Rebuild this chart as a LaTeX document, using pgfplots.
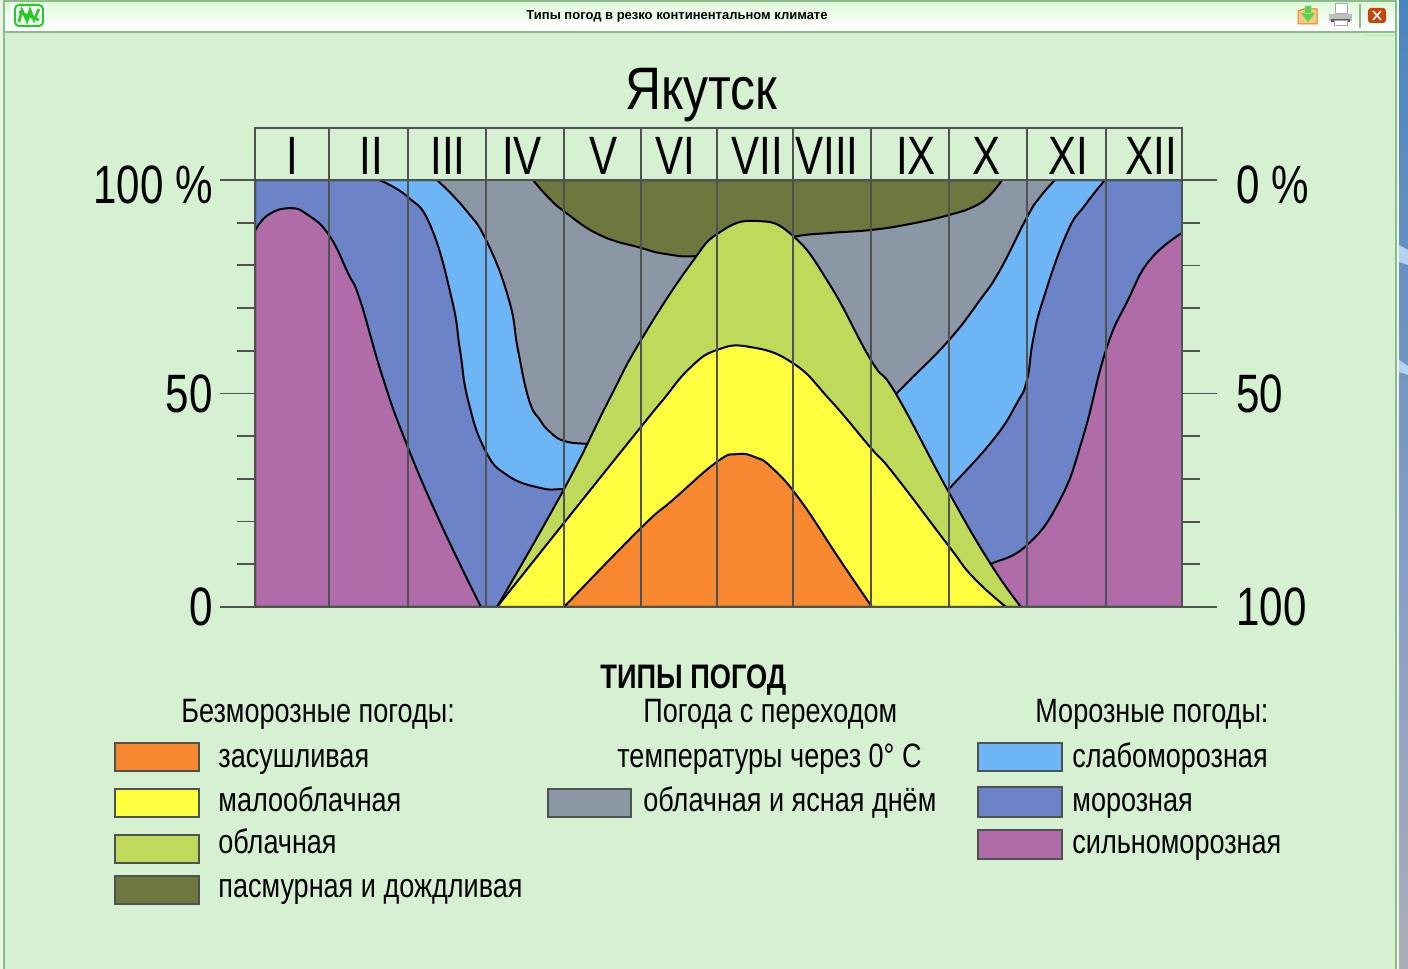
\documentclass[border=0pt]{standalone}
\usepackage{fontspec}
\setmainfont[FakeStretch=0.8]{Liberation Sans}
\newfontfamily\tickfont[FakeStretch=0.78]{Liberation Sans}
\newfontfamily\titlefont[FakeStretch=0.83]{Liberation Sans}
\newfontfamily\plainfont{Liberation Sans}
\usepackage{pgfplots}
\pgfplotsset{compat=1.18}
\definecolor{bgc}{HTML}{D6F1D1}
\definecolor{framec}{HTML}{8DBB8D}
\definecolor{axisc}{HTML}{4F5250}
\definecolor{orangec}{HTML}{F7882F}
\definecolor{yellowc}{HTML}{FFFF40}
\definecolor{greenc}{HTML}{BFD95B}
\definecolor{olivec}{HTML}{6E773E}
\definecolor{greyc}{HTML}{8C97A5}
\definecolor{ltbluec}{HTML}{6EB5F6}
\definecolor{bluec}{HTML}{6C83C8}
\definecolor{purplec}{HTML}{AF6CA8}
\definecolor{deskA}{HTML}{4A86BE}
\definecolor{deskB}{HTML}{8A9FC4}
\definecolor{deskC}{HTML}{AAAEB8}
\definecolor{deskD}{HTML}{B2D2EE}
\definecolor{barA}{HTML}{DEF9DA}
\definecolor{barB}{HTML}{E4FAE0}
\definecolor{closec}{HTML}{C84408}
\definecolor{folderc}{HTML}{FBC888}
\definecolor{arrowc}{HTML}{50D850}
\definecolor{logoc}{HTML}{22CC22}
\pgfplotsset{
  yakutsk/.style={
    scale only axis, width=463.5pt, height=239.5pt,
    at={(127.5pt,181pt)}, anchor=south west,
    xmin=255, xmax=1182,
    axis line style={axisc, line width=1pt},
    major tick length=17.5pt, minor tick length=9pt, tick align=outside,
    y tick label style={font=\tickfont\fontsize{27}{27}\selectfont, inner sep=0pt},
    ytick style={axisc, line width=0.9pt},
    minor ytick={10,20,30,40,60,70,80,90},
    /pgf/number format/assume math mode=true,
  },
  region/.style={draw=black, line width=1pt, smooth, tension=0.8, line join=round},
}
\begin{document}
\begin{tikzpicture}
\path[use as bounding box] (0,0) rectangle (704pt,484.5pt);
\begin{scope}[x=0.5pt,y=-0.5pt,yshift=484.5pt]
  % window frame round the chart
  \fill[bgc] (0,0) rectangle (1408,969);
  \fill[bgc!60!white] (0,0) rectangle (3,969);
  \fill[bgc!50!white] (1396,0) rectangle (1399,969);
  \shade[top color=deskA, bottom color=deskB] (1399,0) rectangle (1408,600);
  \shade[top color=deskB, bottom color=deskC] (1399,600) rectangle (1408,969);
  \fill[deskD] (1399,245) -- (1408,250) -- (1408,265) -- (1399,262) -- cycle;
  \fill[deskD] (1399,360) -- (1408,366) -- (1408,375) -- (1399,372) -- cycle;
  \fill[white] (3,2) rectangle (1395,32);
  \shade[top color=barA, middle color=barB, bottom color=white] (3,3) rectangle (1395,30);
  \draw[framec, line width=1pt] (3,1) -- (1395.5,1) (3,32.5) -- (1395.5,32.5) (3.5,0) -- (3.5,969) (1395.5,0) -- (1395.5,969);
  \node[anchor=base, font=\plainfont\bfseries\fontsize{6.5}{6.5}\selectfont] at (677,20) {Типы погод в резко континентальном климате};
  % logo
  \fill[white] (11,4) rectangle (47,28);
  \draw[logoc, line width=1pt, fill=white, rounded corners=2pt] (15,5) rectangle (43,26);
  \draw[logoc, line width=1.3pt] (19,22) -- (22,10) -- (27,21) -- (30,10) -- (34,20) -- (39,9) (19,12) -- (39,20);
  % save icon
  \draw[orange!70!brown, line width=0.5pt, fill=folderc] (1298,11) -- (1304,9) -- (1317,9) -- (1317,24) -- (1298,24) -- cycle;
  \fill[arrowc] (1305,6) rectangle (1311,14) (1301,13) -- (1315,13) -- (1308,22) -- cycle;
  % printer icon
  \fill[white] (1335,4) rectangle (1347,14);
  \draw[gray!70, line width=0.5pt] (1335,4) rectangle (1347,14);
  \fill[gray!50] (1329,14) rectangle (1352,21);
  \fill[black!65] (1331,19) rectangle (1350,22);
  \fill[white] (1334,21) rectangle (1347,26);
  \draw[gray!70, line width=0.5pt] (1334,21) rectangle (1347,26);
  % separator and close button
  \draw[framec, line width=0.7pt] (1360,4) -- (1360,28);
  \fill[closec, rounded corners=1.5pt] (1368,8) rectangle (1386,23);
  \draw[white, line width=0.8pt] (1373,11) -- (1381,20) (1381,11) -- (1373,20);
  \draw[green!25!bgc, line width=0.8pt] (1364,35.5) -- (1394,35.5);
\end{scope}
\begin{axis}[yakutsk, ymin=0, ymax=112.18,
    ytick={0,50,100}, yticklabels={0,50,\raisebox{-2pt}[19.4pt][0.3pt]{100 \%}},
    ytick pos=left, axis on top,
    yticklabel style={xshift=-3.5pt},
    xtick={329,408,486,564,641,717,793,871,949,1027,1106},
    xticklabels={}, xtick style={draw=none},
    xmajorgrids, x grid style={axisc, line width=0.9pt},
  ]
  % cloudy, clear by day: the whole field, the others are laid on it
  \addplot[fill=greyc, draw=none] coordinates {(255,0) (255,100) (1182,100) (1182,0)} -- cycle;
  % overcast and rainy
  \addplot[region, fill=olivec] coordinates {(533,100) (548,96.0) (565,92.5) (600,87.1) (641,84.1) (665,82.7) (697,82.2) (740,84.1) (793,86.7) (830,87.6) (871,88.3) (910,89.7) (949,91.8) (975,93.9) (990,96.5) (1002,100)} -- cycle;
  % slight frost, spring
  \addplot[region, fill=ltbluec] coordinates {(437,100) (465,93.2) (487,85.5) (509,71.9) (518,60.2) (529,48.5) (540,43.8) (550,41.0) (564,38.9) (587,38.2) (620,37.9)} -- (axis cs:620,0) -- (axis cs:255,0) -- (axis cs:255,100) -- cycle;
  % frost, spring
  \addplot[region, fill=bluec] coordinates {(379,100) (408,96.0) (431,89.0) (452,71.9) (460,60.2) (468,48.5) (485,36.8) (507,30.9) (540,27.9) (564,27.6) (590,27.6)} -- (axis cs:590,0) -- (axis cs:255,0) -- (axis cs:255,100) -- cycle;
  % severe frost, winter start of the year
  \addplot[region, fill=purplec] coordinates {(255,88.1) (268,91.8) (290,93.4) (308,91.8) (329,87.1) (348,78.2) (360,71.9) (382,54.3) (405,39.1) (440,19.9) (481,0)} -- (axis cs:255,0) -- cycle;
  % slight frost, autumn
  \addplot[region, fill=ltbluec] coordinates {(1055,100) (1040,96.0) (1027,91.3) (1000,78.9) (980,71.9) (949,62.5) (910,53.2) (896,49.9) (885,47.3)} -- (axis cs:885,0) -- (axis cs:1182,0) -- (axis cs:1182,100) -- cycle;
  % frost, autumn
  \addplot[region, fill=bluec] coordinates {(1105,100) (1085,94.1) (1067,87.6) (1043,71.9) (1033,62.5) (1027,53.2) (1017,47.8) (993,39.1) (948,27.4) (930,22.7)} -- (axis cs:930,0) -- (axis cs:1182,0) -- (axis cs:1182,100) -- cycle;
  % severe frost, end of the year
  \addplot[region, fill=purplec] coordinates {(1182,87.6) (1150,81.3) (1128,71.9) (1106,60.2) (1083,39.8) (1060,25.1) (1027,14.5) (991,10.1) (975,8.7)} -- (axis cs:975,0) -- (axis cs:1182,0) -- cycle;
  % cloudy
  \addplot[region, fill=greenc] coordinates {(497,0) (564,27.6) (609,48.5) (641,62.5) (690,80.1) (720,87.8) (757,90.4) (793,86.9) (830,75.4) (871,57.8) (896,49.9) (948,27.2) (990,10.3) (1021,0)} \closedcycle;
  % mostly clear
  \addplot[region, fill=yellowc] coordinates {(497,0) (564,19.7) (640,41.9) (663,48.5) (690,56.0) (717,60.2) (750,60.9) (793,57.1) (830,48.5) (871,37.2) (893,31.4) (948,14.5) (973,7.0) (1006,0)} \closedcycle;
  % dry
  \addplot[region, fill=orangec] coordinates {(564,0) (640,18.3) (673,25.1) (717,34.0) (737,35.8) (755,35.1) (772,32.6) (800,25.1) (840,11.0) (872,0)} \closedcycle;
  % line at 100 %
  \addplot[axisc, line width=1pt] coordinates {(255,100) (1182,100)};
  \foreach \xx/\mm in {292/I,371/II,448/III,522/IV,604/V,675/VI,757/VII,827/VIII,916/IX,987/X,1068/XI,1151/XII}{
    \edef\temp{\noexpand\node[anchor=base, font=\noexpand\tickfont\noexpand\fontsize{27}{27}\noexpand\selectfont] at (axis cs:\xx,101.4) {\mm};}
    \temp
  }
\end{axis}
% right scale, read from the top
\begin{axis}[yakutsk, y dir=reverse, ymin=-12.18, ymax=100,
    axis x line=none, axis y line*=right,
    ytick={0,50,100}, yticklabels={\raisebox{-2pt}[19.4pt][0.3pt]{0 \%},50,100},
    yticklabel style={xshift=9.5pt},
  ]
\end{axis}
\begin{scope}[x=0.5pt,y=-0.5pt,yshift=484.5pt]
  \node[anchor=base west, inner sep=0pt, font=\titlefont\fontsize{30}{30}\selectfont] at (625,110) {Якутск};
  \node[anchor=base west, inner sep=0pt, font=\bfseries\fontsize{17}{17}\selectfont] at (600,689) {ТИПЫ ПОГОД};
  \tikzset{lt/.style={anchor=base west, inner sep=0pt, font=\fontsize{16.9}{16.9}\selectfont},
           sw/.style={draw=axisc, line width=0.7pt}}
  \node[lt] at (181,723) {Безморозные погоды:};
  \node[lt] at (643,723) {Погода с переходом};
  \node[lt] at (1035,723) {Морозные погоды:};
  \node[lt] at (617,768) {температуры через 0° С};
  \foreach \yt/\yb/\col/\yl/\txt in {743/771/orangec/768/засушливая,789/817/yellowc/812/малооблачная,835/863/greenc/854/облачная,876/904/olivec/898/пасмурная и дождливая}{
    \draw[sw, fill=\col] (115,\yt) rectangle (199,\yb);
    \node[lt] at (218,\yl) {\txt};
  }
  \draw[sw, fill=greyc] (548,789) rectangle (631,817);
  \node[lt] at (643,812) {облачная и ясная днём};
  \foreach \yt/\yb/\col/\yl/\txt in {743/771/ltbluec/768/слабоморозная,787/817/bluec/812/морозная,830/859/purplec/854/сильноморозная}{
    \draw[sw, fill=\col] (978,\yt) rectangle (1062,\yb);
    \node[lt] at (1072,\yl) {\txt};
  }
\end{scope}
\end{tikzpicture}
\end{document}
